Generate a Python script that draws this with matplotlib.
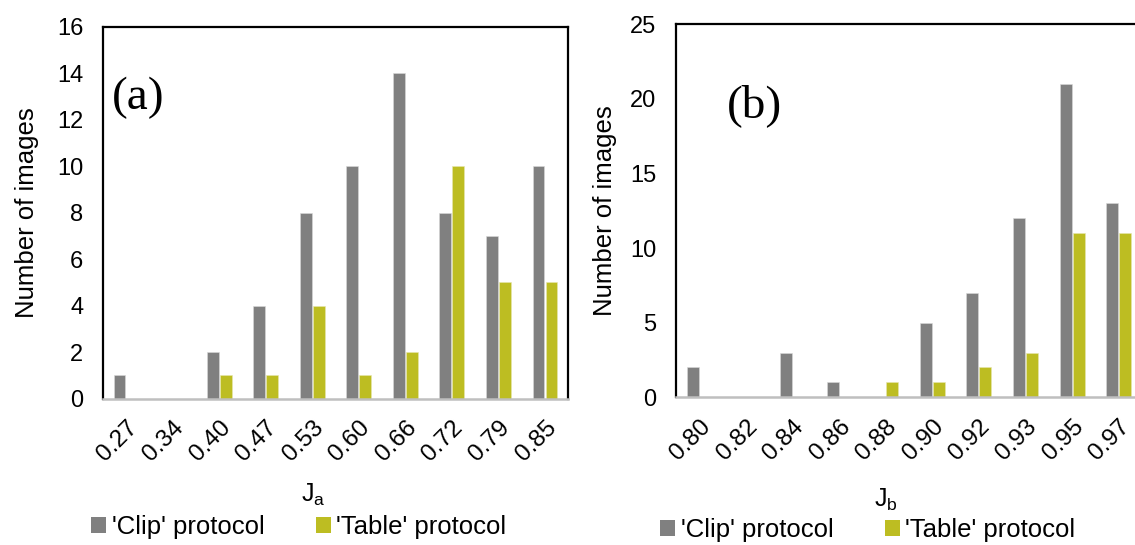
import matplotlib
matplotlib.use("Agg")
import matplotlib.pyplot as plt
from matplotlib.patches import Patch
from matplotlib.transforms import ScaledTranslation
import numpy as np

plt.rcParams['font.family'] = ['Liberation Sans', 'DejaVu Sans']

# ---- data ----
cats_a = ["0.27", "0.34", "0.40", "0.47", "0.53", "0.60", "0.66", "0.72", "0.79", "0.85"]
clip_a = [1, 0, 2, 4, 8, 10, 14, 8, 7, 10]
table_a = [0, 0, 1, 1, 4, 1, 2, 10, 5, 5]

cats_b = ["0.80", "0.82", "0.84", "0.86", "0.88", "0.90", "0.92", "0.93", "0.95", "0.97"]
clip_b = [2, 0, 3, 1, 0, 5, 7, 12, 21, 13]
table_b = [0, 0, 0, 0, 1, 1, 2, 3, 11, 11]

yticks_a = [0, 2, 4, 6, 8, 10, 12, 14, 16]
yticks_b = [0, 5, 10, 15, 20, 25]

GRAY = "#808080"
OLIVE = "#bdbd22"

W, H = 1135, 545
fig = plt.figure(figsize=(W / 100, H / 100), dpi=100)


def px_axes(left, top, right, bottom):
    return fig.add_axes([left / W, (H - bottom) / H, (right - left) / W, (bottom - top) / H])


def draw(ax, cats, clip, table, yticks, ylab_x, panel_label, panel_xy, xlabel, xlabel_xy, leg_xy):
    x = np.arange(len(cats))
    bw = 0.255
    off = 0.14
    ax.bar(x - off, clip, width=bw, color=GRAY, edgecolor="#d9d9d9", linewidth=0.4, zorder=3)
    ax.bar(x + off, table, width=bw, color=OLIVE, edgecolor="#e6e6b0", linewidth=0.4, zorder=3)
    ax.set_xlim(-0.5, len(cats) - 0.5)
    ax.set_ylim(yticks[0], yticks[-1])
    ax.set_yticks(yticks)
    ax.set_yticklabels([str(t) for t in yticks], fontsize=17)
    ax.set_xticks(x)
    ax.set_xticklabels(cats, fontsize=17.5, rotation=45, ha="right", va="top",
                       rotation_mode="anchor")
    shift = ScaledTranslation(-13 / 100, 0, fig.dpi_scale_trans)
    for lab in ax.get_xticklabels():
        lab.set_transform(lab.get_transform() + shift)
    ax.tick_params(axis="both", length=0)
    ax.tick_params(axis="y", pad=14)
    ax.tick_params(axis="x", pad=13)
    for s in ["top", "left", "right"]:
        ax.spines[s].set_color("black")
        ax.spines[s].set_linewidth(1.6)
    ax.spines["bottom"].set_color("#bfbfbf")
    ax.spines["bottom"].set_linewidth(1.8)
    ax.spines["bottom"].set_zorder(4)
    pos = ax.get_position()
    fig.text(ylab_x / W, (pos.y0 + pos.y1) / 2,
             "Number of images", rotation=90, fontsize=18.5, ha="center", va="center")
    fig.text(panel_xy[0] / W, 1 - panel_xy[1] / H, panel_label, fontsize=34,
             family=["Liberation Serif"], ha="left", va="center")
    fig.text(xlabel_xy[0] / W, 1 - xlabel_xy[1] / H, xlabel, fontsize=18,
             ha="center", va="center")
    handles = [Patch(facecolor=GRAY, edgecolor="none", label="'Clip' protocol"),
               Patch(facecolor=OLIVE, edgecolor="none", label="'Table' protocol")]
    fig.legend(handles=handles, loc="center left",
               bbox_to_anchor=(leg_xy[0] / W, 1 - leg_xy[1] / H),
               ncol=2, frameon=False, fontsize=18.5, borderpad=0, borderaxespad=0,
               handlelength=0.6, handleheight=0.6, handletextpad=0.2,
               columnspacing=2.0)


ax_a = px_axes(102.7, 26.7, 568.3, 398.5)
ax_b = px_axes(676.0, 24.3, 1142.0, 397.3)

draw(ax_a, cats_a, clip_a, table_a, yticks_a, 27, "(a)", (112, 98),
     r"J$_\mathregular{a}$", (313, 495), (91, 527))
draw(ax_b, cats_b, clip_b, table_b, yticks_b, 605, "(b)", (727, 106),
     r"J$_\mathregular{b}$", (886, 500), (660, 530))

fig.savefig("out.png", dpi=100)
